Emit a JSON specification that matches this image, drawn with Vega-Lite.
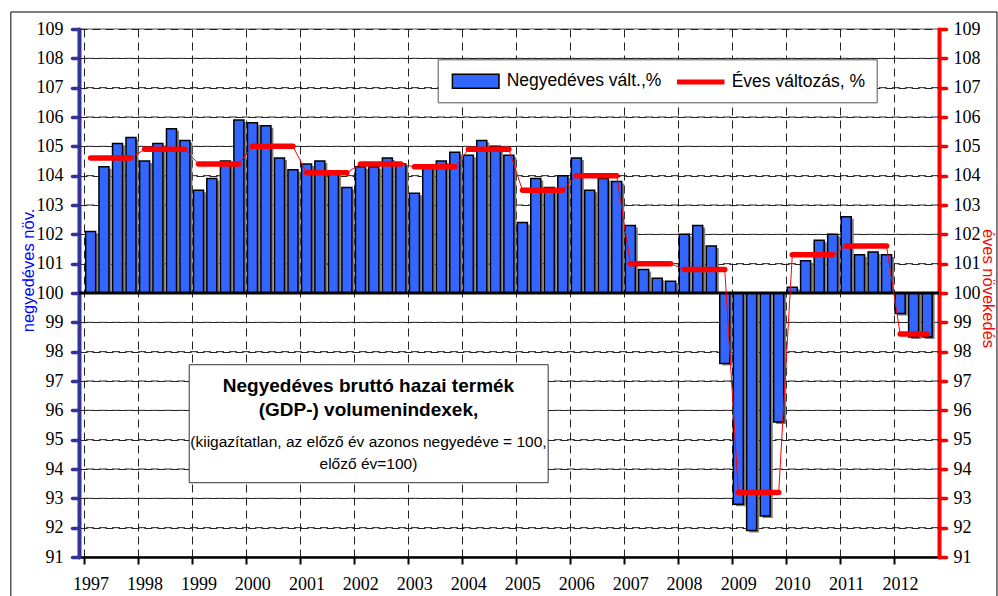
{
  "$schema": "https://vega.github.io/schema/vega-lite/v6.json",
  "width": 860,
  "height": 528,
  "autosize": "none",
  "padding": {"left": 79, "top": 29, "right": 59, "bottom": 39},
  "background": "white",
  "config": {
    "font": "Liberation Sans",
    "view": {"stroke": "#8c8c8c", "strokeWidth": 1.5},
    "axis": {
      "gridColor": "#222222",
      "gridDash": [8, 5],
      "gridWidth": 1,
      "labelFont": "Liberation Sans Narrow",
      "labelColor": "black",
      "labelFontSize": 18,
      "titleFont": "Liberation Sans",
      "titleFontWeight": "normal"
    }
  },
  "datasets": {
    "gdp": [
      {"date": "1997-02-15", "year": 1997, "qv": 102.1, "annual": 104.6},
      {"date": "1997-05-16", "year": 1997, "qv": 104.3, "annual": 104.6},
      {"date": "1997-08-16", "year": 1997, "qv": 105.1, "annual": 104.6},
      {"date": "1997-11-15", "year": 1997, "qv": 105.3, "annual": 104.6},
      {"date": "1998-02-15", "year": 1998, "qv": 104.5, "annual": 104.9},
      {"date": "1998-05-16", "year": 1998, "qv": 105.1, "annual": 104.9},
      {"date": "1998-08-16", "year": 1998, "qv": 105.6, "annual": 104.9},
      {"date": "1998-11-15", "year": 1998, "qv": 105.2, "annual": 104.9},
      {"date": "1999-02-15", "year": 1999, "qv": 103.5, "annual": 104.4},
      {"date": "1999-05-16", "year": 1999, "qv": 103.9, "annual": 104.4},
      {"date": "1999-08-16", "year": 1999, "qv": 104.5, "annual": 104.4},
      {"date": "1999-11-15", "year": 1999, "qv": 105.9, "annual": 104.4},
      {"date": "2000-02-15", "year": 2000, "qv": 105.8, "annual": 105.0},
      {"date": "2000-05-16", "year": 2000, "qv": 105.7, "annual": 105.0},
      {"date": "2000-08-16", "year": 2000, "qv": 104.6, "annual": 105.0},
      {"date": "2000-11-15", "year": 2000, "qv": 104.2, "annual": 105.0},
      {"date": "2001-02-15", "year": 2001, "qv": 104.4, "annual": 104.1},
      {"date": "2001-05-16", "year": 2001, "qv": 104.5, "annual": 104.1},
      {"date": "2001-08-16", "year": 2001, "qv": 104.1, "annual": 104.1},
      {"date": "2001-11-15", "year": 2001, "qv": 103.6, "annual": 104.1},
      {"date": "2002-02-15", "year": 2002, "qv": 104.3, "annual": 104.4},
      {"date": "2002-05-16", "year": 2002, "qv": 104.3, "annual": 104.4},
      {"date": "2002-08-16", "year": 2002, "qv": 104.6, "annual": 104.4},
      {"date": "2002-11-15", "year": 2002, "qv": 104.4, "annual": 104.4},
      {"date": "2003-02-15", "year": 2003, "qv": 103.4, "annual": 104.3},
      {"date": "2003-05-16", "year": 2003, "qv": 104.3, "annual": 104.3},
      {"date": "2003-08-16", "year": 2003, "qv": 104.5, "annual": 104.3},
      {"date": "2003-11-15", "year": 2003, "qv": 104.8, "annual": 104.3},
      {"date": "2004-02-15", "year": 2004, "qv": 104.7, "annual": 104.9},
      {"date": "2004-05-16", "year": 2004, "qv": 105.2, "annual": 104.9},
      {"date": "2004-08-16", "year": 2004, "qv": 105.0, "annual": 104.9},
      {"date": "2004-11-15", "year": 2004, "qv": 104.7, "annual": 104.9},
      {"date": "2005-02-15", "year": 2005, "qv": 102.4, "annual": 103.5},
      {"date": "2005-05-16", "year": 2005, "qv": 103.9, "annual": 103.5},
      {"date": "2005-08-16", "year": 2005, "qv": 103.6, "annual": 103.5},
      {"date": "2005-11-15", "year": 2005, "qv": 104.0, "annual": 103.5},
      {"date": "2006-02-15", "year": 2006, "qv": 104.6, "annual": 104.0},
      {"date": "2006-05-16", "year": 2006, "qv": 103.5, "annual": 104.0},
      {"date": "2006-08-16", "year": 2006, "qv": 103.9, "annual": 104.0},
      {"date": "2006-11-15", "year": 2006, "qv": 103.8, "annual": 104.0},
      {"date": "2007-02-15", "year": 2007, "qv": 102.3, "annual": 101.0},
      {"date": "2007-05-16", "year": 2007, "qv": 100.8, "annual": 101.0},
      {"date": "2007-08-16", "year": 2007, "qv": 100.5, "annual": 101.0},
      {"date": "2007-11-15", "year": 2007, "qv": 100.4, "annual": 101.0},
      {"date": "2008-02-15", "year": 2008, "qv": 102.0, "annual": 100.8},
      {"date": "2008-05-16", "year": 2008, "qv": 102.3, "annual": 100.8},
      {"date": "2008-08-16", "year": 2008, "qv": 101.6, "annual": 100.8},
      {"date": "2008-11-15", "year": 2008, "qv": 97.6, "annual": 100.8},
      {"date": "2009-02-15", "year": 2009, "qv": 92.8, "annual": 93.2},
      {"date": "2009-05-16", "year": 2009, "qv": 91.9, "annual": 93.2},
      {"date": "2009-08-16", "year": 2009, "qv": 92.4, "annual": 93.2},
      {"date": "2009-11-15", "year": 2009, "qv": 95.6, "annual": 93.2},
      {"date": "2010-02-15", "year": 2010, "qv": 100.2, "annual": 101.3},
      {"date": "2010-05-16", "year": 2010, "qv": 101.1, "annual": 101.3},
      {"date": "2010-08-16", "year": 2010, "qv": 101.8, "annual": 101.3},
      {"date": "2010-11-15", "year": 2010, "qv": 102.0, "annual": 101.3},
      {"date": "2011-02-15", "year": 2011, "qv": 102.6, "annual": 101.6},
      {"date": "2011-05-16", "year": 2011, "qv": 101.3, "annual": 101.6},
      {"date": "2011-08-16", "year": 2011, "qv": 101.4, "annual": 101.6},
      {"date": "2011-11-15", "year": 2011, "qv": 101.3, "annual": 101.6},
      {"date": "2012-02-15", "year": 2012, "qv": 99.3, "annual": 98.6},
      {"date": "2012-05-16", "year": 2012, "qv": 98.5, "annual": 98.6},
      {"date": "2012-08-16", "year": 2012, "qv": 98.5, "annual": 98.6}
    ],
    "gridlevels": [
      {"g": 92}, {"g": 93}, {"g": 94}, {"g": 95}, {"g": 96}, {"g": 97}, {"g": 98}, {"g": 99},
      {"g": 101}, {"g": 102}, {"g": 103}, {"g": 104}, {"g": 105}, {"g": 106}, {"g": 107}, {"g": 108}
    ]
  },
  "data": {"name": "gdp"},
  "layer": [
    {
      "data": {"values": [{}]},
      "mark": {"type": "rect", "filled": false, "fill": null, "stroke": "black", "strokeWidth": 1},
      "encoding": {
        "x": {
          "datum": {"year": 1995, "month": 8, "date": 25},
          "type": "temporal",
          "scale": {"domain": [{"year": 1997, "month": 1, "date": 1}, {"year": 2012, "month": 10, "date": 1}]},
          "axis": {
            "orient": "bottom",
            "format": "%Y",
            "tickCount": {"interval": "year", "step": 1},
            "grid": true,
            "domainColor": "black",
            "domainWidth": 2.5,
            "tickColor": "black",
            "tickWidth": 2,
            "tickSize": 7,
            "labelPadding": 11,
            "labelOffset": 6.5,
            "labelFlush": false,
            "labelOverlap": false,
            "title": null
          }
        },
        "x2": {"datum": {"year": 2013, "month": 12, "date": 1}},
        "y": {
          "datum": 109.58,
          "type": "quantitative",
          "scale": {"domain": [91, 109], "nice": false, "zero": false},
          "axis": {
            "orient": "left",
            "tickCount": 18,
            "format": "d",
            "grid": true,
            "domainColor": "#333399",
            "domainWidth": 4,
            "domainCap": "round",
            "tickColor": "#333399",
            "tickWidth": 3.5,
            "tickSize": 7,
            "tickCap": "round",
            "labelPadding": 9,
            "labelFlush": false,
            "labelOverlap": false,
            "title": "negyedéves növ.",
            "titleColor": "#0000FF",
            "titleFontSize": 16.5,
            "titleAngle": -90,
            "titleX": -51,
            "titleY": 241,
            "titleAlign": "center",
            "titleBaseline": "middle"
          }
        },
        "y2": {"datum": 89.4}
      }
    },
    {
      "data": {"name": "gridlevels"},
      "mark": {"type": "rule", "color": "#222222", "strokeWidth": 1, "strokeDash": [8, 5]},
      "encoding": {"y": {"field": "g", "type": "quantitative", "axis": null}}
    },
    {
      "mark": {"type": "bar", "width": 10, "fill": "#7f7f7f", "xOffset": 2.5, "yOffset": 2},
      "encoding": {
        "x": {"field": "date", "type": "temporal"},
        "y": {"field": "qv", "type": "quantitative", "axis": null},
        "y2": {"datum": 100}
      }
    },
    {
      "mark": {"type": "bar", "width": 10, "fill": "#3366FF", "stroke": "black", "strokeWidth": 1.5},
      "encoding": {
        "x": {"field": "date", "type": "temporal"},
        "y": {"field": "qv", "type": "quantitative", "axis": null},
        "y2": {"datum": 100}
      }
    },
    {
      "data": {"values": [{}]},
      "mark": {"type": "rule", "color": "black", "strokeWidth": 3},
      "encoding": {"y": {"datum": 100, "type": "quantitative", "axis": null}}
    },
    {
      "mark": {"type": "line", "color": "#FF0000", "strokeWidth": 1},
      "encoding": {
        "x": {"field": "date", "type": "temporal"},
        "y": {"field": "annual", "type": "quantitative", "axis": null}
      }
    },
    {
      "mark": {"type": "line", "color": "#FF0000", "strokeWidth": 5.5, "strokeCap": "round"},
      "encoding": {
        "x": {"field": "date", "type": "temporal"},
        "y": {
          "field": "annual",
          "type": "quantitative",
          "axis": {
            "orient": "right",
            "tickCount": 18,
            "format": "d",
            "grid": false,
            "domainColor": "#FF0000",
            "domainWidth": 4,
            "domainCap": "round",
            "tickColor": "#FF0000",
            "tickWidth": 3.5,
            "tickSize": 7,
            "tickCap": "round",
            "labelPadding": 7,
            "labelFlush": false,
            "labelOverlap": false,
            "title": "éves növekedés",
            "titleColor": "#FF0000",
            "titleFontSize": 16.5,
            "titleAngle": 90,
            "titleX": 48,
            "titleY": 259,
            "titleAlign": "center",
            "titleBaseline": "middle"
          }
        },
        "detail": {"field": "year"}
      }
    },
    {
      "data": {"values": [{}]},
      "mark": {"type": "rect", "fill": "white", "stroke": "#333333", "strokeWidth": 1},
      "encoding": {
        "x": {"datum": {"year": 1998, "month": 12, "date": 14}, "type": "temporal"},
        "x2": {"datum": {"year": 2005, "month": 8, "date": 8}},
        "y": {"datum": 97.555, "type": "quantitative", "axis": null},
        "y2": {"datum": 93.533}
      }
    },
    {
      "data": {"values": [{}]},
      "mark": {"type": "text", "text": "Negyedéves bruttó hazai termék", "font": "Liberation Sans", "fontWeight": "bold", "fontSize": 19, "align": "center", "baseline": "alphabetic", "color": "black"},
      "encoding": {
        "x": {"datum": {"year": 2002, "month": 4, "date": 10}, "type": "temporal"},
        "y": {"datum": 96.635, "type": "quantitative", "axis": null}
      }
    },
    {
      "data": {"values": [{}]},
      "mark": {"type": "text", "text": "(GDP-) volumenindexek,", "font": "Liberation Sans", "fontWeight": "bold", "fontSize": 19, "align": "center", "baseline": "alphabetic", "color": "black"},
      "encoding": {
        "x": {"datum": {"year": 2002, "month": 4, "date": 10}, "type": "temporal"},
        "y": {"datum": 95.807, "type": "quantitative", "axis": null}
      }
    },
    {
      "data": {"values": [{}]},
      "mark": {"type": "text", "text": "(kiigazítatlan, az előző év azonos negyedéve = 100,", "font": "Liberation Sans", "fontSize": 15.5, "align": "center", "baseline": "alphabetic", "color": "black"},
      "encoding": {
        "x": {"datum": {"year": 2002, "month": 4, "date": 10}, "type": "temporal"},
        "y": {"datum": 94.76, "type": "quantitative", "axis": null}
      }
    },
    {
      "data": {"values": [{}]},
      "mark": {"type": "text", "text": "előző év=100)", "font": "Liberation Sans", "fontSize": 15.5, "align": "center", "baseline": "alphabetic", "color": "black"},
      "encoding": {
        "x": {"datum": {"year": 2002, "month": 4, "date": 10}, "type": "temporal"},
        "y": {"datum": 94.0, "type": "quantitative", "axis": null}
      }
    },
    {
      "data": {"values": [{"s": "Negyedéves vált.,%"}, {"s": "Éves változás, %"}]},
      "transform": [{"filter": "false"}],
      "mark": {"type": "point", "filled": true, "opacity": 1, "strokeWidth": 1.5},
      "encoding": {
        "fill": {
          "field": "s",
          "type": "nominal",
          "scale": {"domain": ["Negyedéves vált.,%", "Éves változás, %"], "range": ["#3366FF", "#FF0000"]},
          "legend": {
            "orient": "none",
            "legendX": 358.7,
            "legendY": 30.3,
            "direction": "horizontal",
            "title": null,
            "fillColor": "white",
            "strokeColor": "#555555",
            "padding": 11,
            "labelFont": "Liberation Sans",
            "labelFontSize": 17.5,
            "labelColor": "black",
            "symbolSize": 400,
            "symbolOffset": 16,
            "labelOffset": 20,
            "columnPadding": 12
          }
        },
        "stroke": {
          "field": "s",
          "type": "nominal",
          "scale": {"domain": ["Negyedéves vált.,%", "Éves változás, %"], "range": ["black", "#FF0000"]}
        },
        "shape": {
          "field": "s",
          "type": "nominal",
          "scale": {"domain": ["Negyedéves vált.,%", "Éves változás, %"], "range": ["M-2.33,-0.7H2.33V0.7H-2.33Z", "M-2.3,-0.18H2.3V0.18H-2.3Z"]}
        }
      }
    }
  ],
  "resolve": {"axis": {"y": "independent"}}
}
